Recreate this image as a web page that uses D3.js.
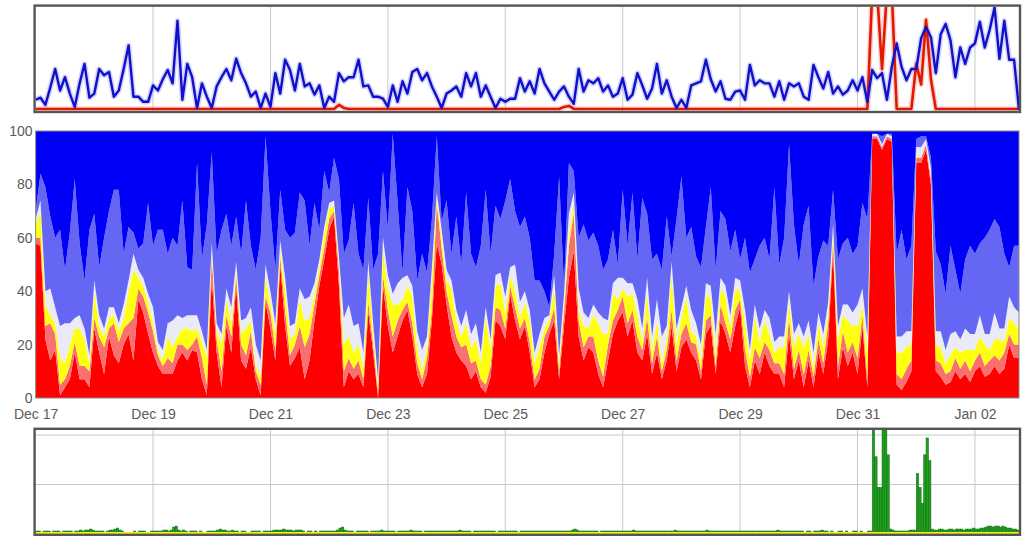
<!DOCTYPE html>
<html lang="en">
<head>
<meta charset="utf-8">
<title>Load overview</title>
<script src="https://cdn.jsdelivr.net/npm/d3@7"></script>
<style>
  body { margin: 0; background: #fff; }
  svg { display: block; }
  .axis text { font-family: "Liberation Sans", Arial, sans-serif; font-size: 14px; fill: #5a5a5a; }
</style>
</head>
<body>
<svg id="chart" width="1024" height="541"></svg>
<script>
// time grid: Dec 17 00:00 -> Jan 02 18:00, 2h steps (202 points), green bars hourly
var start = new Date(2012, 11, 17, 0, 0);
var end = new Date(2013, 0, 2, 18, 0);
var tickLabels = ["Dec 17", "Dec 19", "Dec 21", "Dec 23", "Dec 25", "Dec 27", "Dec 29", "Dec 31", "Jan 02"];
var yTicks = [0, 20, 40, 60, 80, 100];

// top panel lines
var topBlue = [
  10,12,5,22,40,19,32,16,3,26, 45,12,16,40,34,37,13,19,40,63,
  13,13,8,8,24,19,30,39,26,87, 10,45,32,2,26,13,2,23,32,40,
  29,50,36,26,13,18,2,16,3,36, 16,49,39,19,45,23,26,15,24,2,
  13,8,36,28,32,32,49,23,24,13, 13,11,3,24,8,28,16,37,40,29,
  36,23,13,2,16,19,23,13,36,23, 36,13,24,13,2,11,8,11,11,31,
  18,28,16,40,26,18,10,18,23,13, 6,40,18,29,26,31,18,24,13,16,
  31,10,15,36,24,11,21,45,16,29, 13,2,10,2,24,26,28,49,30,18,
  28,11,10,18,19,10,44,24,29,26, 26,13,28,10,26,23,26,13,10,44,
  32,21,37,16,23,15,19,29,19,32, 8,39,31,36,10,42,65,42,29,40,
  40,70,81,71,36,74,84,68,32,61, 45,61,65,86,61,78,100,50,87,49,
  49,0
];
var topRed = [
  1,1,1,1,1,1,1,1,1,1, 1,1,1,1,1,1,1,1,1,1,
  1,1,1,1,1,1,1,1,1,1, 1,1,1,1,1,1,1,1,1,1,
  1,1,1,1,1,1,1,1,1,1, 1,1,1,1,1,1,1,1,1,1,
  1,1,5,2,1,1,1,1,1,1, 1,1,1,1,1,1,1,1,1,1,
  1,1,1,1,1,1,1,1,1,1, 1,1,1,1,1,1,1,1,1,1,
  1,1,1,1,1,1,1,1,3,4, 1,1,1,1,1,1,1,1,1,1,
  1,1,1,1,1,1,1,1,1,1, 1,1,1,1,1,1,1,1,1,1,
  1,1,1,1,1,1,1,1,1,1, 1,1,1,1,1,1,1,1,1,1,
  1,1,1,1,1,1,1,1,1,1, 1,115,115,40,115,115,1,1,1,1,
  45,25,88,30,1,1,1,1,1,1, 1,1,1,1,1,1,1,1,1,1,
  1,1
];

// middle panel, percent layers (bottom to top); blue fills up to 100
var redPct = [
  58,57,22,14,18,1,4,7,17,7, 7,4,26,17,9,23,16,13,20,24,
  14,37,32,24,17,12,9,9,9,14, 17,14,18,17,7,1,45,17,4,27,
  17,42,14,11,19,7,1,36,26,14, 50,27,12,15,19,7,14,29,42,52,
  63,68,42,4,10,7,9,4,32,17, 0,42,27,17,23,29,33,23,9,4,
  9,29,58,50,35,23,17,14,12,7, 10,4,2,8,29,27,22,39,29,22,
  27,17,4,7,17,24,29,7,27,45, 55,23,14,19,17,9,4,14,24,29,
  32,23,29,17,14,24,9,17,7,14, 27,10,19,22,17,14,7,24,27,9,
  29,24,17,27,34,12,4,14,9,17, 12,9,9,4,24,7,14,4,14,4,
  17,9,22,55,7,19,12,17,9,27, 4,97,97,93,97,96,5,3,6,10,
  88,88,93,80,10,8,5,6,10,7, 9,6,10,12,8,9,12,9,11,20,
  15,15
];
var salmonPct = [
  2,3,5,14,6,4,3,5,4,5, 5,6,4,6,10,3,12,8,6,4,
  16,4,6,8,8,4,3,6,4,6, 3,4,2,6,8,4,8,5,6,4,
  6,4,6,5,6,3,4,2,6,4, 3,6,4,5,8,12,10,6,4,4,
  4,2,6,6,5,4,5,3,4,3, 2,4,6,6,6,4,3,5,4,3,
  6,4,15,6,5,8,6,5,8,6, 4,3,3,4,5,6,4,3,5,4,
  3,4,3,4,6,3,5,3,5,12, 14,6,5,4,6,5,4,6,5,4,
  6,5,4,6,4,6,4,6,3,4, 6,4,5,6,4,6,3,5,4,3,
  6,4,5,6,3,6,4,5,6,4, 6,4,4,5,6,4,4,5,4,4,
  5,4,6,4,5,6,5,4,6,4, 3,1,1,1,1,1,4,4,5,4,
  2,2,2,2,4,5,4,4,5,4, 5,4,4,5,4,5,4,5,6,4,
  5,5
];
var yellowPct = [
  5,10,8,3,4,10,6,8,5,14, 10,3,10,4,4,4,3,4,4,12,
  18,4,4,4,3,2,2,8,6,3, 6,8,5,3,6,10,2,3,10,6,
  5,2,4,10,4,2,3,8,3,6, 3,8,6,4,10,10,6,4,3,6,
  4,2,2,10,8,6,6,4,12,4, 2,10,8,12,6,4,6,10,6,3,
  4,12,2,4,4,10,6,4,8,6, 8,6,26,6,8,10,6,4,6,4,
  6,8,6,8,3,2,8,3,3,4, 4,4,8,3,8,14,16,4,10,4,
  3,10,6,8,3,10,4,6,3,4, 14,6,6,10,4,3,4,10,6,4,
  6,10,4,8,3,10,6,12,6,8, 6,4,6,10,6,8,6,10,6,3,
  6,6,4,3,10,6,12,6,12,4, 10,0,0,0,0,0,8,10,8,6,
  1,0,0,1,6,6,4,6,4,6, 4,8,4,6,8,4,6,8,4,6,
  8,6
];
var whitePct = [
  2,4,5,10,6,12,15,8,4,5, 4,3,4,4,3,4,3,3,5,4,
  6,3,3,3,6,3,4,5,10,8, 4,5,6,5,4,3,3,3,4,4,
  6,3,5,4,5,8,6,4,5,4, 3,4,5,4,4,8,8,4,3,2,
  2,2,3,10,12,10,8,6,3,4, 3,4,5,4,8,8,4,4,6,8,
  4,4,2,3,4,3,4,4,5,5, 6,4,3,4,4,4,6,3,10,6,
  4,4,4,5,4,2,4,3,4,8, 4,8,5,4,4,4,6,5,4,8,
  4,5,4,6,5,5,6,8,10,5, 4,6,4,4,8,5,6,4,5,8,
  4,4,5,4,4,5,4,4,5,4, 6,4,4,4,4,5,4,4,5,6,
  4,5,4,3,5,4,6,5,8,6, 6,1,1,1,1,1,6,6,6,5,
  3,4,2,3,5,6,5,8,6,5, 8,6,6,8,4,6,10,4,5,8,
  6,6
];
// top edge of the light blue layer (where dark blue starts)
var lightBlueTop = [
  70,84,79,68,60,63,48,62,82,58, 44,63,69,49,60,70,78,78,54,64,
  62,56,58,73,57,63,63,54,60,57, 74,49,48,88,52,65,92,54,63,69,
  57,68,54,74,57,48,60,98,70,48, 78,63,60,62,77,74,57,73,63,85,
  77,90,82,54,59,73,54,48,75,48, 54,85,63,99,73,47,79,70,44,54,
  47,67,98,66,74,54,68,50,77,54, 49,57,78,54,72,67,74,82,70,64,
  68,60,44,44,40,34,54,83,42,88, 85,60,65,59,62,57,48,52,63,50,
  78,57,77,52,75,69,52,54,48,68, 53,67,83,60,64,53,49,64,79,48,
  70,67,55,63,52,60,47,52,57,60, 52,79,50,60,95,65,50,65,72,42,
  53,59,57,78,52,58,60,54,57,73, 67,99,99,98,99,99,54,63,52,57,
  97,98,98,90,55,50,39,57,48,39, 52,57,54,58,60,63,67,64,54,49,
  57,57
];

// bottom panel: hourly green bars (one row per day), 2h yellow line
var greenHourly = [
  3,3,0,3,3,3,0,3,3,3,0,3,3,3,3,0,3,3,4,3,4,4,5,4,
  3,3,3,3,0,3,4,4,5,6,4,3,0,0,0,0,3,0,3,3,3,0,0,3,
  3,3,3,3,4,4,3,4,7,8,4,3,4,3,0,3,3,3,0,3,0,0,3,3,
  3,3,4,5,4,4,3,3,4,3,3,0,3,3,0,0,3,3,3,3,0,3,3,3,
  3,4,4,4,4,5,4,4,4,3,4,4,4,3,0,3,3,0,3,0,3,3,3,3,
  3,3,3,4,6,7,4,3,3,3,0,3,3,3,3,3,0,3,3,3,3,4,3,3,
  3,3,3,0,3,3,3,3,3,4,3,3,3,3,0,3,3,3,3,3,3,3,3,3,
  3,3,3,3,3,4,3,3,3,3,0,3,3,3,3,3,3,3,3,3,0,3,3,3,
  3,3,3,3,3,0,3,3,3,3,3,3,3,3,3,3,3,3,3,3,3,3,3,3,
  3,3,3,4,5,4,3,3,3,3,3,3,3,3,0,3,3,3,3,3,3,3,3,3,
  3,3,3,3,4,3,3,3,3,3,3,3,3,3,3,3,3,3,3,3,3,4,3,3,
  3,3,3,3,3,3,3,3,3,3,4,3,3,3,3,3,3,3,3,3,3,3,3,3,
  3,3,3,3,3,3,3,3,3,3,3,3,3,3,3,4,3,3,3,3,3,3,3,3,
  3,3,0,3,3,0,3,3,3,4,3,3,0,3,0,0,3,3,0,3,0,0,3,3,
  0,3,0,0,3,3,105,78,47,47,105,105,80,5,4,3,3,3,3,3,3,4,4,4,
  61,47,31,80,97,74,5,4,4,5,5,4,4,5,5,4,5,5,5,4,5,5,5,6,
  5,5,6,6,7,8,8,7,8,8,7,8,7,6,6,5,5,4,3
];
var yellowLine = [
  2,2,2,2,2,2,2,2,2,2, 2,2,2,2,2,2,2,2,2,2,
  2,2,2,2,2,2,2,2,2,2, 2,2,2,2,2,2,2,2,2,2,
  2,2,2,2,2,2,2,2,2,2, 2,2,2,2,2,2,2,2,2,2,
  2,2,2,2,2,2,2,2,2,2, 2,2,2,2,2,2,2,2,2,2,
  2,2,2,2,2,2,2,2,2,2, 2,2,2,2,2,2,2,2,2,2,
  2,2,2,2,2,2,2,2,2,2, 2,2,2,2,2,2,2,2,2,2,
  2,2,2,2,2,2,2,2,2,2, 2,2,2,2,2,2,2,2,2,2,
  2,2,2,2,2,2,2,2,2,2, 2,2,2,2,2,2,2,2,2,2,
  2,2,2,2,2,2,2,2,2,2, 2,2,2,2,2,2,2,2,2,2,
  2,2,2,2,2,2,2,2,2,2, 2,2,2,2,2,2,2,2,2,2,
  2,2
];

var left = 35.6, right = 1019;
var svg = d3.select("#chart");

var x = d3.scaleTime().domain([start, end]).range([left, right]);
function at2h(i) { return d3.timeHour.offset(start, i * 2); }
var tickDates = d3.timeDay.range(start, d3.timeDay.offset(end, 1), 2);

//----- top panel -----
var topBox = { y0: 6.8, y1: 110.8 };
var yTop = d3.scaleLinear().domain([0, 100]).range([110, 7.5]);

svg.append("clipPath").attr("id", "clipTop")
  .append("rect").attr("x", left).attr("y", topBox.y0)
  .attr("width", right - left).attr("height", topBox.y1 - topBox.y0);

svg.append("g").selectAll("line").data(tickDates.slice(1)).join("line")
  .attr("x1", function(d) { return x(d); }).attr("x2", function(d) { return x(d); })
  .attr("y1", topBox.y0).attr("y2", topBox.y1)
  .attr("stroke", "#c8c8c8").attr("stroke-width", 1);

var gTop = svg.append("g").attr("clip-path", "url(#clipTop)");
function topLine(vals) {
  return d3.line()
    .x(function(d, i) { return x(at2h(i)); })
    .y(function(d) { return yTop(d); })(vals);
}
gTop.append("path").attr("d", topLine(topBlue))
  .attr("fill", "none").attr("stroke", "rgba(110,110,255,0.3)").attr("stroke-width", 5.5)
  .attr("stroke-linejoin", "round");
gTop.append("path").attr("d", topLine(topRed))
  .attr("fill", "none").attr("stroke", "rgba(255,120,120,0.35)").attr("stroke-width", 5.5)
  .attr("stroke-linejoin", "round");
gTop.append("path").attr("d", topLine(topRed))
  .attr("fill", "none").attr("stroke", "#e01a00").attr("stroke-width", 2.6)
  .attr("stroke-linejoin", "round");
gTop.append("path").attr("d", topLine(topBlue))
  .attr("fill", "none").attr("stroke", "#1010c8").attr("stroke-width", 2.4)
  .attr("stroke-linejoin", "round");

svg.append("rect").attr("x", 34.6).attr("y", 5.6)
  .attr("width", right - 34.6 + 1).attr("height", 106.4)
  .attr("fill", "none").attr("stroke", "#555").attr("stroke-width", 2.4);

//----- middle stacked panel -----
var yMid = d3.scaleLinear().domain([0, 100]).range([398, 131]);

var rows = redPct.map(function(r, i) {
  var warm = r + salmonPct[i] + yellowPct[i] + whitePct[i];
  var top = Math.max(lightBlueTop[i], warm);
  return {
    t: at2h(i), red: r, salmon: salmonPct[i], yellow: yellowPct[i], white: whitePct[i],
    lightBlue: top - warm, blue: 100 - top
  };
});
var keys = ["red", "salmon", "yellow", "white", "lightBlue", "blue"];
var colors = { red: "#ff0000", salmon: "#f87070", yellow: "#ffff10", white: "#eaeaf8", lightBlue: "#6666f4", blue: "#0000f6" };
var stacked = d3.stack().keys(keys)(rows);

svg.append("clipPath").attr("id", "clipMid")
  .append("rect").attr("x", left).attr("y", 131)
  .attr("width", right - left).attr("height", 267);

var area = d3.area()
  .x(function(d) { return x(d.data.t); })
  .y0(function(d) { return yMid(d[0]); })
  .y1(function(d) { return yMid(d[1]); });

svg.append("g").attr("clip-path", "url(#clipMid)")
  .selectAll("path").data(stacked).join("path")
  .attr("d", area)
  .attr("fill", function(d) { return colors[d.key]; });

svg.append("rect").attr("x", left).attr("y", 131)
  .attr("width", right - left).attr("height", 267)
  .attr("fill", "none").attr("stroke", "#8a8a8a").attr("stroke-width", 1);

svg.append("g").attr("class", "axis")
  .attr("transform", "translate(" + (left - 3) + ",0)")
  .call(d3.axisLeft(yMid).tickValues(yTicks).tickSize(0).tickPadding(0))
  .call(function(g) { g.select(".domain").remove(); });

svg.append("g").attr("class", "axis")
  .attr("transform", "translate(0,406)")
  .call(d3.axisBottom(x).tickValues(tickDates).tickSize(0).tickPadding(3)
    .tickFormat(function(d, i) { return tickLabels[i]; }))
  .call(function(g) { g.select(".domain").remove(); });

//----- bottom panel -----
var botBox = { y0: 430, y1: 534 };
var yBot = d3.scaleLinear().domain([0, 100]).range([534, 435]);

svg.append("clipPath").attr("id", "clipBot")
  .append("rect").attr("x", left).attr("y", botBox.y0)
  .attr("width", right - left).attr("height", botBox.y1 - botBox.y0);

svg.append("g").selectAll("line").data([50, 100]).join("line")
  .attr("x1", left).attr("x2", right)
  .attr("y1", function(d) { return yBot(d); }).attr("y2", function(d) { return yBot(d); })
  .attr("stroke", "#c8c8c8").attr("stroke-width", 1);
svg.append("g").selectAll("line").data(tickDates.slice(1)).join("line")
  .attr("x1", function(d) { return x(d); }).attr("x2", function(d) { return x(d); })
  .attr("y1", botBox.y0).attr("y2", botBox.y1)
  .attr("stroke", "#c8c8c8").attr("stroke-width", 1);

var gBot = svg.append("g").attr("clip-path", "url(#clipBot)");
gBot.selectAll("rect").data(greenHourly).join("rect")
  .attr("x", function(d, i) { return x(d3.timeHour.offset(start, i)); })
  .attr("width", function(d, i) {
    return x(d3.timeHour.offset(start, i + 1)) - x(d3.timeHour.offset(start, i));
  })
  .attr("y", function(d) { return yBot(d); })
  .attr("height", function(d) { return yBot(0) - yBot(d); })
  .attr("fill", "#1ea01e").attr("stroke", "#0d6a0d").attr("stroke-width", 0.5);

gBot.append("path")
  .attr("d", d3.area()
    .x(function(d, i) { return x(at2h(i)); })
    .y0(yBot(0))
    .y1(function(d) { return yBot(d); })(yellowLine))
  .attr("fill", "#f4f21a");

svg.append("rect").attr("x", 34.6).attr("y", 428.8)
  .attr("width", right - 34.6 + 1).attr("height", 106)
  .attr("fill", "none").attr("stroke", "#555").attr("stroke-width", 2.4);
</script>
</body>
</html>
